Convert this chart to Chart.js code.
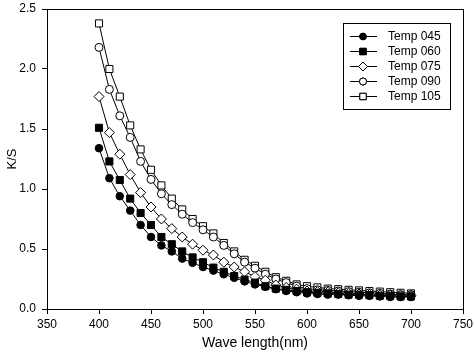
<!DOCTYPE html>
<html><head><meta charset="utf-8">
<script src="https://cdn.jsdelivr.net/npm/chart.js@4/dist/chart.umd.min.js"></script>
<style>html,body{margin:0;padding:0;background:#fff}#wrap{width:474px;height:357px;position:relative}</style>
</head><body><div id="wrap"><canvas id="c" width="474" height="357"></canvas></div>
<script>
const wavelengths = [400,410,420,430,440,450,460,470,480,490,500,510,520,530,540,550,560,570,580,590,600,610,620,630,640,650,660,670,680,690,700];
const temp045 = [1.34,1.09,0.94,0.82,0.70,0.60,0.53,0.48,0.42,0.385,0.35,0.32,0.29,0.26,0.23,0.205,0.185,0.165,0.15,0.14,0.13,0.125,0.12,0.12,0.115,0.11,0.11,0.105,0.10,0.10,0.10];
const temp060 = [1.51,1.23,1.075,0.92,0.80,0.70,0.60,0.54,0.48,0.43,0.39,0.345,0.31,0.275,0.245,0.22,0.19,0.17,0.16,0.15,0.14,0.135,0.13,0.125,0.12,0.12,0.115,0.11,0.11,0.105,0.105];
const temp075 = [1.77,1.47,1.29,1.12,0.97,0.85,0.75,0.67,0.60,0.54,0.49,0.45,0.39,0.35,0.31,0.27,0.24,0.20,0.18,0.165,0.15,0.145,0.14,0.135,0.13,0.125,0.12,0.115,0.115,0.11,0.11];
const temp090 = [2.18,1.83,1.61,1.43,1.23,1.08,0.96,0.87,0.79,0.72,0.66,0.60,0.53,0.46,0.39,0.34,0.29,0.25,0.22,0.19,0.17,0.16,0.155,0.15,0.145,0.14,0.135,0.13,0.125,0.12,0.12];
const temp105 = [2.38,2.00,1.77,1.53,1.33,1.16,1.03,0.92,0.83,0.75,0.69,0.63,0.55,0.48,0.41,0.36,0.31,0.265,0.235,0.205,0.19,0.18,0.17,0.165,0.16,0.155,0.15,0.145,0.14,0.135,0.13];
const seriesNames = ['Temp 045','Temp 060','Temp 075','Temp 090','Temp 105'];
const xTicks = [350,400,450,500,550,600,650,700,750];
const yTicks = [0,0.5,1.0,1.5,2.0,2.5];
const xTitle = 'Wave length(nm)';
const yTitle = 'K/S';

const styles = [
  {pointStyle:'circle', radius:3.8, fill:'#000'},
  {pointStyle:'rect', radius:5, fill:'#000'},
  {pointStyle:'rectRot', radius:5, fill:'#fff'},
  {pointStyle:'circle', radius:4, fill:'#fff'},
  {pointStyle:'rect', radius:5, fill:'#fff'}
];
const allSeries = [temp045,temp060,temp075,temp090,temp105];
const datasets = allSeries.map((s,i)=>({
  label: seriesNames[i],
  data: s.map((v,j)=>({x:wavelengths[j], y:v})),
  borderColor:'#000', borderWidth:1,
  pointStyle: styles[i].pointStyle, pointRadius: styles[i].radius,
  pointBackgroundColor: styles[i].fill, pointBorderColor:'#000', pointBorderWidth:1,
  fill:false, tension:0
}));

const fam = '"Liberation Sans", Arial, sans-serif';
const boxPlugin = {
  id:'boxLegend',
  afterDraw(chart){
    const ctx = chart.ctx, a = chart.chartArea;
    ctx.save();
    ctx.strokeStyle = '#000'; ctx.lineWidth = 1;
    ctx.strokeRect(Math.round(a.left)+0.5, Math.round(a.top)+0.5, Math.round(a.right-a.left), Math.round(a.bottom-a.top));
    // axis titles
    ctx.fillStyle = '#000';
    ctx.textAlign = 'center'; ctx.textBaseline = 'middle';
    ctx.font = '14px ' + fam;
    ctx.fillText(xTitle, (a.left + a.right)/2, 343);
    ctx.save();
    ctx.translate(12, (a.top + a.bottom)/2);
    ctx.rotate(-Math.PI/2);
    ctx.font = '13px ' + fam;
    ctx.fillText(yTitle, 0, 0);
    ctx.restore();
    // legend
    const lx = 343.5, ly = 23.5, lw = 107, lh = 86;
    ctx.fillStyle = '#fff';
    ctx.fillRect(lx, ly, lw, lh);
    ctx.strokeRect(lx, ly, lw, lh);
    ctx.font = '12px ' + fam;
    ctx.textBaseline = 'middle'; ctx.textAlign = 'left';
    for (let i=0;i<seriesNames.length;i++){
      const y = 36 + i*15;
      ctx.strokeStyle = '#000'; ctx.lineWidth = 1;
      ctx.beginPath(); ctx.moveTo(350, y+0.5); ctx.lineTo(377, y+0.5); ctx.stroke();
      ctx.fillStyle = styles[i].fill;
      Chart.helpers.drawPoint(ctx, {pointStyle: styles[i].pointStyle, radius: styles[i].radius-0.5, borderWidth:1, rotation:0}, 363, y+0.5);
      ctx.fill(); ctx.stroke();
      ctx.fillStyle = '#000';
      ctx.fillText(seriesNames[i], 388, y+1);
    }
    ctx.restore();
  }
};

new Chart(document.getElementById('c'), {
  type:'line',
  data:{datasets},
  plugins:[boxPlugin],
  options:{
    responsive:false, animation:false, devicePixelRatio:1,
    layout:{padding:{top:9, right:11, left:0, bottom:0}},
    plugins:{legend:{display:false}, tooltip:{enabled:false}},
    scales:{
      x:{type:'linear', min:350, max:750,
        afterBuildTicks(s){ s.ticks = xTicks.map(v=>({value:v})); },
        afterFit(s){ s.height = 48; s.paddingLeft = 0; s.paddingRight = 0; },
        grid:{display:true, drawOnChartArea:false, drawTicks:true, tickLength:5, color:'#000'},
        border:{display:true, color:'#000', width:1},
        ticks:{color:'#000', font:{family:fam, size:12}, padding:3}
      },
      y:{type:'linear', min:0, max:2.5,
        afterBuildTicks(s){ s.ticks = yTicks.map(v=>({value:v})); },
        afterFit(s){ s.width = 47; s.paddingTop = 0; s.paddingBottom = 0; },
        grid:{display:true, drawOnChartArea:false, drawTicks:true, tickLength:5, color:'#000'},
        border:{display:true, color:'#000', width:1},
        ticks:{color:'#000', font:{family:fam, size:12}, padding:6, callback:v=>Number(v).toFixed(1)}
      }
    }
  }
});
</script></body></html>
